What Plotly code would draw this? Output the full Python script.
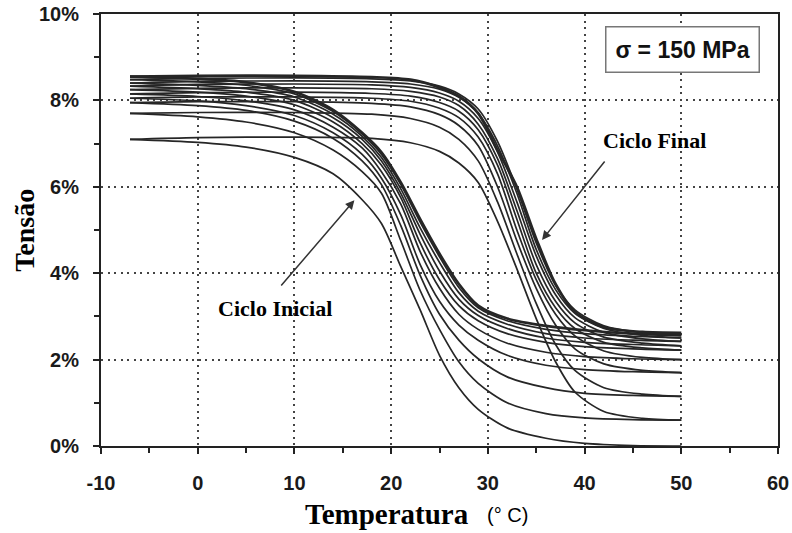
import plotly.graph_objects as go

# Temperature grids (°C)
temp_cool = [-7, 0, 5, 10, 14, 17, 19, 21, 23, 25, 27, 29, 32, 36, 40, 45, 50]
temp_heat = [-7, 0, 10, 18, 22, 25, 27, 29, 31, 33, 35, 37, 39, 42, 46, 50]

# Cooling branches (strain %), cycle 1 .. 10
cool_1 = [7.10, 7.03, 6.92, 6.68, 6.30, 5.70, 5.15, 4.15, 3.15, 2.10, 1.35, 0.85, 0.42, 0.18, 0.06, 0.01, 0.00]
cool_2 = [7.70, 7.62, 7.50, 7.25, 6.85, 6.35, 5.85, 4.75, 3.60, 2.70, 1.95, 1.45, 1.00, 0.75, 0.65, 0.61, 0.60]
cool_3 = [7.95, 7.88, 7.77, 7.52, 7.12, 6.60, 6.05, 5.10, 3.95, 3.05, 2.45, 2.02, 1.60, 1.35, 1.22, 1.17, 1.15]
cool_4 = [8.05, 7.99, 7.88, 7.65, 7.25, 6.75, 6.20, 5.35, 4.20, 3.35, 2.80, 2.45, 2.10, 1.87, 1.77, 1.72, 1.70]
cool_5 = [8.15, 8.09, 7.99, 7.78, 7.38, 6.90, 6.35, 5.60, 4.50, 3.65, 3.05, 2.70, 2.38, 2.17, 2.07, 2.02, 2.00]
cool_6 = [8.25, 8.19, 8.10, 7.90, 7.50, 7.00, 6.50, 5.75, 4.70, 3.85, 3.25, 2.90, 2.60, 2.40, 2.30, 2.25, 2.22]
cool_7 = [8.33, 8.27, 8.19, 8.00, 7.60, 7.10, 6.60, 5.85, 4.90, 4.05, 3.40, 3.02, 2.72, 2.50, 2.40, 2.35, 2.32]
cool_8 = [8.40, 8.35, 8.27, 8.08, 7.68, 7.17, 6.68, 5.95, 5.05, 4.25, 3.55, 3.12, 2.82, 2.60, 2.50, 2.45, 2.42]
cool_9 = [8.48, 8.43, 8.35, 8.15, 7.74, 7.22, 6.75, 6.05, 5.18, 4.38, 3.67, 3.20, 2.90, 2.70, 2.60, 2.54, 2.50]
cool_10 = [8.55, 8.50, 8.42, 8.20, 7.78, 7.25, 6.80, 6.10, 5.25, 4.45, 3.75, 3.25, 2.95, 2.78, 2.68, 2.60, 2.56]

# Heating branches (strain %), cycle 1 .. 10
heat_1 = [7.10, 7.14, 7.15, 7.12, 7.02, 6.82, 6.55, 6.10, 5.20, 4.10, 2.95, 1.95, 1.25, 0.80, 0.64, 0.60]
heat_2 = [7.70, 7.72, 7.72, 7.68, 7.58, 7.38, 7.10, 6.60, 5.65, 4.45, 3.30, 2.35, 1.75, 1.35, 1.20, 1.15]
heat_3 = [7.95, 7.97, 7.97, 7.93, 7.85, 7.67, 7.42, 6.95, 6.00, 4.75, 3.65, 2.80, 2.25, 1.90, 1.75, 1.70]
heat_4 = [8.05, 8.08, 8.08, 8.05, 7.98, 7.82, 7.60, 7.15, 6.30, 5.00, 3.85, 3.05, 2.55, 2.20, 2.05, 2.00]
heat_5 = [8.15, 8.18, 8.19, 8.16, 8.10, 7.95, 7.75, 7.32, 6.50, 5.25, 4.00, 3.20, 2.72, 2.40, 2.27, 2.22]
heat_6 = [8.25, 8.28, 8.29, 8.27, 8.21, 8.08, 7.88, 7.45, 6.65, 5.45, 4.20, 3.35, 2.85, 2.52, 2.38, 2.32]
heat_7 = [8.33, 8.37, 8.38, 8.36, 8.30, 8.17, 7.98, 7.58, 6.80, 5.65, 4.40, 3.50, 2.97, 2.63, 2.48, 2.42]
heat_8 = [8.40, 8.44, 8.45, 8.43, 8.38, 8.26, 8.07, 7.70, 6.95, 5.85, 4.55, 3.62, 3.07, 2.72, 2.56, 2.50]
heat_9 = [8.48, 8.51, 8.52, 8.50, 8.45, 8.33, 8.15, 7.80, 7.05, 5.95, 4.70, 3.72, 3.15, 2.78, 2.62, 2.56]
heat_10 = [8.55, 8.57, 8.57, 8.54, 8.48, 8.30, 8.10, 7.70, 6.85, 6.00, 4.80, 3.75, 3.10, 2.75, 2.64, 2.62]

cooling = [cool_1, cool_2, cool_3, cool_4, cool_5, cool_6, cool_7, cool_8, cool_9, cool_10]
heating = [heat_1, heat_2, heat_3, heat_4, heat_5, heat_6, heat_7, heat_8, heat_9, heat_10]

x_ticks = [-10, 0, 10, 20, 30, 40, 50, 60]
y_ticks = [0, 2, 4, 6, 8, 10]
y_tick_labels = ["0%", "2%", "4%", "6%", "8%", "10%"]

fig = go.Figure()
n = len(cooling)
for i, ys in enumerate(cooling):
    w = 2.7 if i == n - 1 else 1.7
    fig.add_trace(go.Scatter(x=temp_cool, y=ys, mode="lines",
                             line=dict(color="#262626", width=w, shape="spline", smoothing=0.8),
                             showlegend=False))
for i, ys in enumerate(heating):
    w = 2.7 if i == n - 1 else 1.7
    fig.add_trace(go.Scatter(x=temp_heat, y=ys, mode="lines",
                             line=dict(color="#262626", width=w, shape="spline", smoothing=0.8),
                             showlegend=False))

sans = "Arial, Liberation Sans, sans-serif"
serif = "Times New Roman, Liberation Serif, serif"
tick_font = dict(family=sans, size=20, color="#1a1a1a", weight="bold")

axis_common = dict(
    showline=True, linecolor="#222", linewidth=2, mirror=True,
    ticks="outside", ticklen=6, tickwidth=2, tickcolor="#222",
    showgrid=True, gridcolor="#444", gridwidth=2, griddash="2px,4.5px",
    zeroline=False, tickfont=tick_font, automargin=False,
)

fig.update_layout(
    width=792, height=533,
    margin=dict(l=101, r=14, t=14, b=87, autoexpand=False),
    paper_bgcolor="white", plot_bgcolor="white",
    showlegend=False,
    xaxis=dict(
        range=[-10, 60], tickvals=x_ticks, ticktext=[str(v) for v in x_ticks],
        minor=dict(ticks="outside", ticklen=5, tickwidth=2, tickcolor="#222", dtick=5, showgrid=False),
        ticklabelstandoff=12, **axis_common,
    ),
    yaxis=dict(
        range=[0, 10], tickvals=y_ticks, ticktext=y_tick_labels,
        minor=dict(ticks="outside", ticklen=5, tickwidth=2, tickcolor="#222", dtick=1, showgrid=False),
        ticklabelstandoff=10, **axis_common,
    ),
)

annotations = [
    # axis titles
    dict(text="<b>Tensão</b>", xref="paper", yref="paper", x=-0.114, y=0.50,
         textangle=-90, showarrow=False, font=dict(family=serif, size=28, color="black"),
         xanchor="center", yanchor="middle"),
    dict(text="<b>Temperatura</b>", xref="paper", yref="paper", x=0.423, y=-0.158,
         showarrow=False, font=dict(family=serif, size=29, color="black"),
         xanchor="center", yanchor="middle"),
    dict(text="(° C)", xref="paper", yref="paper", x=0.601, y=-0.160,
         showarrow=False, font=dict(family=sans, size=20, color="black"),
         xanchor="center", yanchor="middle"),
    # boxed label
    dict(text="<b>σ = 150 MPa</b>", xref="x", yref="y", x=50.1, y=9.17,
         showarrow=False, font=dict(family=sans, size=23, color="#111"),
         bordercolor="#777", borderwidth=1.5, borderpad=9, bgcolor="white",
         xanchor="center", yanchor="middle"),
    # text labels
    dict(text="<b>Ciclo Final</b>", xref="x", yref="y", x=47.2, y=7.08,
         showarrow=False, font=dict(family=serif, size=22, color="black"),
         xanchor="center", yanchor="middle"),
    dict(text="<b>Ciclo Inicial</b>", xref="x", yref="y", x=8.0, y=3.18,
         showarrow=False, font=dict(family=serif, size=22, color="black"),
         xanchor="center", yanchor="middle"),
    # arrows
    dict(text="", x=35.6, y=4.77, ax=42.2, ay=6.62, xref="x", yref="y", axref="x", ayref="y",
         showarrow=True, arrowhead=2, arrowsize=1.2, arrowwidth=1.5, arrowcolor="#333"),
    dict(text="", x=16.2, y=5.69, ax=8.5, ay=3.68, xref="x", yref="y", axref="x", ayref="y",
         showarrow=True, arrowhead=2, arrowsize=1.2, arrowwidth=1.5, arrowcolor="#333"),
]
fig.update_layout(annotations=annotations)

fig.write_html("out.html")
